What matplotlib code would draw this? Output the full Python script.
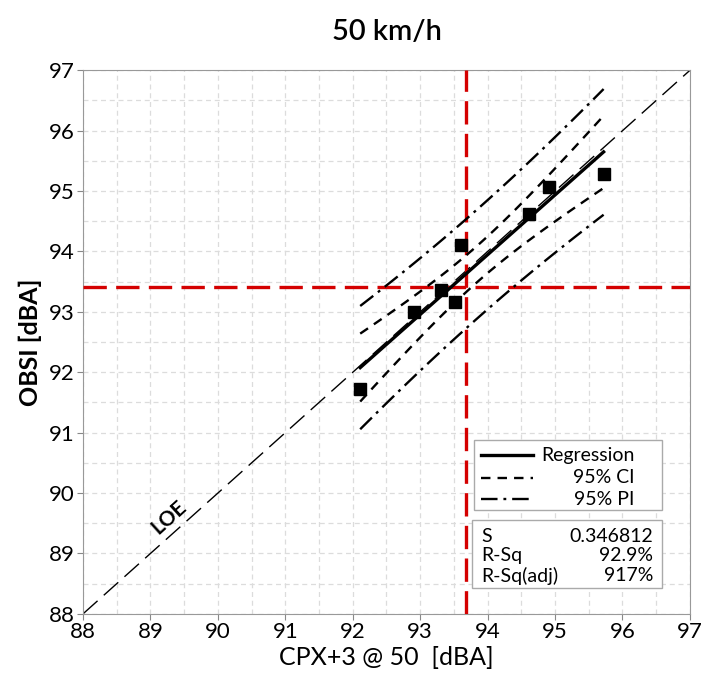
import matplotlib
matplotlib.use("Agg")
import matplotlib.pyplot as plt
import numpy as np
from matplotlib.patches import Rectangle
from matplotlib.ticker import MultipleLocator

plt.rcParams["font.family"] = ["Lato", "DejaVu Sans"]

cpx = np.array([92.11, 92.91, 93.31, 93.52, 93.61, 94.62, 94.91, 95.72])
obsi = np.array([91.72, 93.00, 93.36, 93.16, 94.10, 94.62, 95.06, 95.28])

# threshold lines
x_thresh = 93.68
y_thresh = 93.41

# stats shown in the box
stat_names = ["S", "R-Sq", "R-Sq(adj)"]
stat_values = ["0.346812", "92.9%", "917%"]

legend_labels = ["Regression", "95% CI", "95% PI"]

T_975_DF6 = 2.4469  # Student t, 95% two-sided, 6 dof

# --- regression with confidence / prediction bands ---
n = len(cpx)
slope, icpt = np.polyfit(cpx, obsi, 1)
resid = obsi - (slope * cpx + icpt)
s = np.sqrt(np.sum(resid ** 2) / (n - 2))
xm = cpx.mean()
sxx = np.sum((cpx - xm) ** 2)

xx = np.linspace(cpx.min(), cpx.max(), 100)
yy = slope * xx + icpt
ci = T_975_DF6 * s * np.sqrt(1.0 / n + (xx - xm) ** 2 / sxx)
pi = T_975_DF6 * s * np.sqrt(1.0 + 1.0 / n + (xx - xm) ** 2 / sxx)

fig = plt.figure(figsize=(7.04, 6.76), dpi=100)
ax = fig.add_axes([0.118, 0.092, 0.862, 0.804])

ax.set_xlim(88, 97)
ax.set_ylim(88, 97)
ax.xaxis.set_major_locator(MultipleLocator(1))
ax.yaxis.set_major_locator(MultipleLocator(1))
ax.xaxis.set_minor_locator(MultipleLocator(0.5))
ax.yaxis.set_minor_locator(MultipleLocator(0.5))
ax.grid(which="both", color="#dcdcdc", linestyle=(0, (4, 3)), linewidth=0.9)
ax.set_axisbelow(True)
ax.tick_params(which="minor", length=0)
ax.tick_params(which="major", length=4, color="#888888", labelsize=16, pad=2)
for sp in ax.spines.values():
    sp.set_color("#999999")

# line of equality
ax.plot([88, 97], [88, 97], color="black", lw=1.0, dashes=(14, 6), zorder=2)
ax.text(89.28, 89.6, "LOE", rotation=42, fontsize=15, fontweight="bold",
        ha="center", va="center", zorder=3)

# thresholds
red = "#d40000"
ax.axvline(x_thresh, color=red, lw=2.4, dashes=(7, 2.8), zorder=4)
ax.axhline(y_thresh, color=red, lw=2.4, dashes=(7, 2.8), zorder=4)

# regression + bands
ax.plot(xx, yy, color="black", lw=2.4, zorder=5)
ax.plot(xx, yy + ci, color="black", lw=1.7, dashes=(4, 3), zorder=5)
ax.plot(xx, yy - ci, color="black", lw=1.7, dashes=(4, 3), zorder=5)
ax.plot(xx, yy + pi, color="black", lw=1.7, dashes=(7, 2.5, 1.2, 2.5), zorder=5)
ax.plot(xx, yy - pi, color="black", lw=1.7, dashes=(7, 2.5, 1.2, 2.5), zorder=5)

ax.plot(cpx, obsi, "s", color="black", ms=9, zorder=6)

ax.set_title("50 km/h", fontsize=21, fontweight="semibold", pad=22)
ax.set_xlabel("CPX+3 @ 50  [dBA]", fontsize=18, labelpad=3)
ax.set_ylabel("OBSI [dBA]", fontsize=18, fontweight="bold", labelpad=5)

# legend box (drawn by hand for right-aligned labels)
tr = ax.transAxes
ax.add_patch(Rectangle((0.644, 0.191), 0.310, 0.129, transform=tr, fill=True,
                       facecolor="white", edgecolor="#aaaaaa", lw=1.0, zorder=7))
styles = [dict(lw=2.4), dict(lw=1.7, dashes=(4, 3)), dict(lw=1.7, dashes=(7, 2.5, 1.2, 2.5))]
rows = [0.292, 0.250, 0.211]
for lab, st, yr in zip(legend_labels, styles, rows):
    ax.plot([0.656, 0.741], [yr, yr], transform=tr, color="black", zorder=8, **st)
    ax.text(0.909, yr, lab, transform=tr, ha="right", va="center", fontsize=14, zorder=8)

# stats box
ax.add_patch(Rectangle((0.641, 0.048), 0.313, 0.125, transform=tr, fill=True,
                       facecolor="white", edgecolor="#aaaaaa", lw=1.0, zorder=7))
for nm, val, yr in zip(stat_names, stat_values, [0.143, 0.107, 0.070]):
    ax.text(0.656, yr, nm, transform=tr, ha="left", va="center", fontsize=14, zorder=8)
    ax.text(0.939, yr, val, transform=tr, ha="right", va="center", fontsize=14, zorder=8)

fig.savefig("out.png", dpi=100)
